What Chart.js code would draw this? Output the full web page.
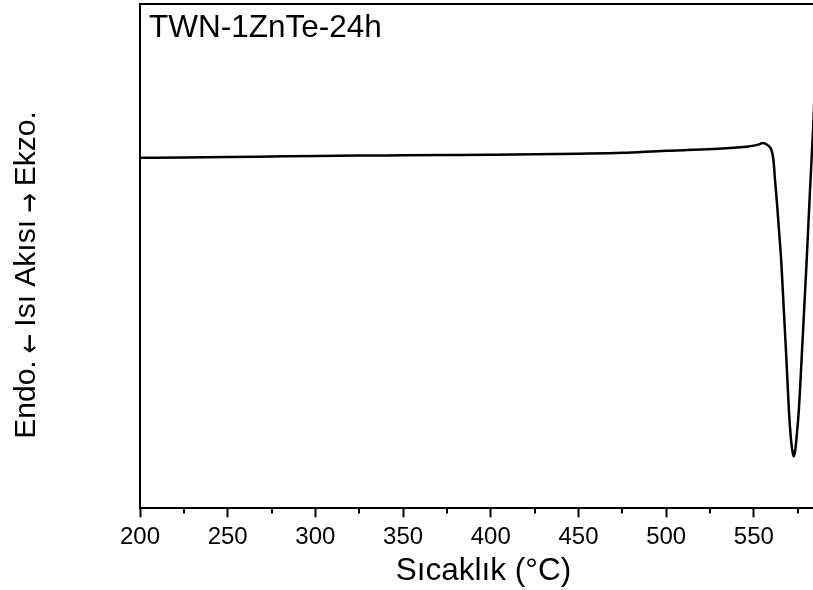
<!DOCTYPE html>
<html lang="tr">
<head>
    <meta charset="UTF-8">
    <meta name="viewport" content="width=device-width, initial-scale=1.0">
    <title>DTA - TWN-1ZnTe-24h</title>
    <script src="https://cdn.jsdelivr.net/npm/chart.js"></script>
    <style>
        html, body {
            margin: 0;
            padding: 0;
            background: #fff;
            overflow: hidden;
        }
        .wrap {
            width: 813px;
            height: 590px;
            overflow: hidden;
        }
        canvas {
            display: block;
        }
    </style>
</head>
<body>
    <div class="wrap">
        <canvas id="dtaChart" width="830" height="590"></canvas>
    </div>

    <script>
        // Sıcaklık (°C) ve ısı akışı (keyfi birim)
        const temperatures = [
            200, 225, 250, 275, 300, 325, 350, 375, 400, 425, 450, 475,
            500, 510, 520, 530, 540, 547, 552, 555.2, 558, 560.1, 561.2,
            562, 563.2, 564.3, 565.6, 567.1, 568.6, 570, 571, 571.9,
            572.7, 573.6, 574.4, 575.6, 577.9, 580.1, 582.0, 584.0, 585.8, 586.8
        ];
        const heatFlow = [
            3.497, 3.500, 3.504, 3.509, 3.514, 3.518, 3.521, 3.524, 3.527, 3.531, 3.537, 3.546,
            3.567, 3.572, 3.578, 3.587, 3.598, 3.610, 3.625, 3.643, 3.620, 3.570, 3.470,
            3.290, 3.040, 2.780, 2.470, 1.970, 1.470, 0.970, 0.720, 0.580,
            0.520, 0.580, 0.720, 0.970, 1.720, 2.470, 3.170, 3.870, 4.670, 5.000
        ];

        const majorTicks = [200, 250, 300, 350, 400, 450, 500, 550];
        const minorTicks = [225, 275, 325, 375, 425, 475, 525, 575];

        const sampleName = 'TWN-1ZnTe-24h';
        const yTitle = 'Endo. \u2190 Isı Akısı \u2192 Ekzo.';
        const xTitle = 'Sıcaklık (°C)';

        const FONT = '"Liberation Sans", Arial, sans-serif';
        Chart.defaults.font.family = FONT;
        Chart.defaults.color = '#000';

        function isArrow(w) {
            return w === '\u2190' || w === '\u2192';
        }

        // dikey eksen yazısı, oklar sabit uzunlukta ortalanır
        function drawYTitle(ctx, cx, cy) {
            const words = yTitle.split(' ');
            const arrowFont = '30px "DejaVu Sans"';
            const textFont = '30px ' + FONT;
            const arrowSlot = 17;
            const arrowLen = 18;
            ctx.font = textFont;
            const gap = ctx.measureText(' ').width;
            const widths = words.map(w => {
                if (isArrow(w)) return arrowSlot;
                ctx.font = textFont;
                return ctx.measureText(w).width;
            });
            const total = widths.reduce((a, b) => a + b, 0) + gap * (words.length - 1);

            ctx.save();
            ctx.translate(cx, cy);
            ctx.rotate(-Math.PI / 2);
            ctx.textBaseline = 'alphabetic';
            let x = -total / 2;
            words.forEach((w, i) => {
                if (isArrow(w)) {
                    ctx.font = arrowFont;
                    const m = ctx.measureText(w);
                    const vis = m.actualBoundingBoxLeft + m.actualBoundingBoxRight;
                    const mid = (m.actualBoundingBoxRight - m.actualBoundingBoxLeft) / 2;
                    const vmid = (m.actualBoundingBoxAscent - m.actualBoundingBoxDescent) / 2;
                    const s = arrowLen / vis;
                    ctx.save();
                    ctx.translate(x + arrowSlot / 2, -5.5 + vmid);
                    ctx.scale(s, 1);
                    ctx.textAlign = 'left';
                    ctx.fillText(w, -mid, 0);
                    ctx.restore();
                } else {
                    ctx.font = textFont;
                    ctx.textAlign = 'left';
                    ctx.fillText(w, x, 0);
                }
                x += widths[i] + gap;
            });
            ctx.restore();
        }

        // çerçeve, ara çentikler ve yazılar
        const decorations = {
            id: 'decorations',
            afterDraw(chart) {
                const ctx = chart.ctx;
                const area = chart.chartArea;
                const xScale = chart.scales.x;
                ctx.save();

                ctx.strokeStyle = '#000';
                ctx.lineWidth = 2;
                ctx.beginPath();
                ctx.moveTo(area.left - 1, area.top);
                ctx.lineTo(area.right, area.top);
                ctx.lineTo(area.right, area.bottom);
                ctx.stroke();

                minorTicks.forEach(t => {
                    const px = Math.round(xScale.getPixelForValue(t));
                    ctx.beginPath();
                    ctx.moveTo(px, area.bottom);
                    ctx.lineTo(px, area.bottom + 5);
                    ctx.stroke();
                });

                ctx.fillStyle = '#000';
                ctx.font = '31.5px ' + FONT;
                ctx.textAlign = 'left';
                ctx.textBaseline = 'alphabetic';
                ctx.fillText(sampleName, area.left + 9, 37);

                drawYTitle(ctx, 35, 275);

                ctx.restore();
            }
        };

        new Chart(document.getElementById('dtaChart'), {
            type: 'line',
            data: {
                labels: temperatures,
                datasets: [{
                    data: temperatures.map((t, i) => ({ x: t, y: heatFlow[i] })),
                    borderColor: '#000',
                    borderWidth: 2.5,
                    pointRadius: 0,
                    cubicInterpolationMode: 'monotone',
                    fill: false
                }]
            },
            options: {
                responsive: false,
                animation: false,
                devicePixelRatio: 1,
                layout: {
                    padding: { left: 140, top: 4, right: 3, bottom: 0 }
                },
                plugins: {
                    legend: { display: false },
                    tooltip: { enabled: false }
                },
                scales: {
                    x: {
                        type: 'linear',
                        min: 200,
                        max: 591.7,
                        afterBuildTicks: scale => {
                            scale.ticks = majorTicks.map(v => ({ value: v }));
                        },
                        ticks: {
                            font: { size: 24 },
                            color: '#000',
                            padding: 6,
                            maxRotation: 0,
                            includeBounds: false
                        },
                        grid: {
                            drawOnChartArea: false,
                            drawTicks: true,
                            tickLength: 9,
                            tickColor: '#000',
                            tickWidth: 2
                        },
                        border: { color: '#000', width: 2 },
                        title: {
                            display: true,
                            text: xTitle,
                            font: { size: 31.5 },
                            color: '#000',
                            padding: { top: -6, bottom: 0 }
                        }
                    },
                    y: {
                        min: 0,
                        max: 5.03,
                        ticks: { display: false },
                        grid: { display: false, drawTicks: false },
                        border: { color: '#000', width: 2 }
                    }
                }
            },
            plugins: [decorations]
        });
    </script>
</body>
</html>
